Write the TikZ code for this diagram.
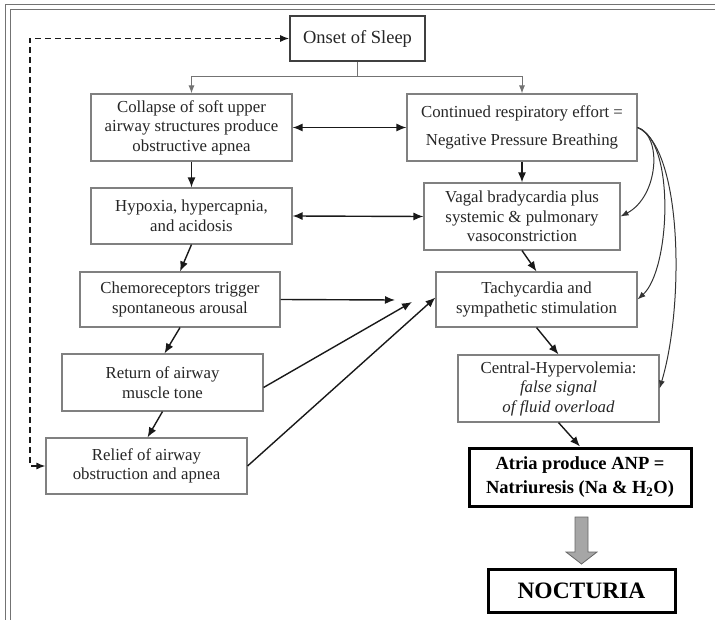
\documentclass[tikz,border=0pt]{standalone}
\usepackage{fontspec}
\setmainfont{Liberation Serif}
\usetikzlibrary{arrows.meta}
\begin{document}
\begin{tikzpicture}[x=1pt,y=-1pt,
  box/.style={draw=black!50, line width=1.1pt, fill=white, text=black!85, align=center, inner sep=0pt,
    font=\fontsize{16.8}{19.5}\selectfont},
  onsetbox/.style={box, draw=black!75, line width=1.6pt, font=\fontsize{18.5}{21}\selectfont},
  thickbox/.style={box, draw=black, line width=3pt, text=black, font=\bfseries\fontsize{18.5}{24}\selectfont},
  arr/.style={draw=black!90, line width=1.4pt, -{Latex[length=10pt,width=8pt]}},
  darr/.style={arr, {Latex[length=10pt,width=8pt]}-{Latex[length=10pt,width=8pt]}},
  conn/.style={draw=black!55, line width=1pt},
  carr/.style={draw=black!80, line width=1pt, -{Latex[length=8pt,width=6pt]}},
  dashline/.style={draw=black!90, line width=1.4pt, dash pattern=on 6pt off 4pt,
    {Latex[length=9pt,width=7pt]}-{Latex[length=9pt,width=7pt]}}
]
\useasboundingbox (0,0) rectangle (715,620);
% frame
\draw[black!55, line width=1pt] (5,620) -- (5,5) -- (715,5);
\draw[black!55, line width=1pt] (10,620) -- (10,10) -- (715,10);

% nodes
\node[onsetbox, minimum width=135pt, minimum height=45pt] (onset) at (357.5,38.5) {Onset of Sleep};
\node[box, minimum width=201pt, minimum height=67pt] (collapse) at (191.5,127.5)
  {Collapse of soft upper\\airway structures produce\\obstructive apnea};
\node[box, minimum width=230pt, minimum height=67pt] (cont) at (522,127.5)
  {Continued respiratory effort =\\[9pt]Negative Pressure Breathing};
\node[box, minimum width=201pt, minimum height=56pt] (hypoxia) at (191.5,216)
  {Hypoxia, hypercapnia,\\and acidosis};
\node[box, minimum width=196pt, minimum height=67pt] (vagal) at (522,216.5)
  {Vagal bradycardia plus\\systemic \& pulmonary\\vasoconstriction};
\node[box, minimum width=200pt, minimum height=55pt] (chemo) at (180,299.5)
  {Chemoreceptors trigger\\spontaneous arousal};
\node[box, minimum width=201pt, minimum height=55pt] (tachy) at (536.5,299.5)
  {Tachycardia and\\sympathetic stimulation};
\node[box, minimum width=201pt, minimum height=57pt] (ret) at (162.5,382.5)
  {Return of airway\\muscle tone};
\node[box, minimum width=201pt, minimum height=56pt] (relief) at (146.5,466)
  {Relief of airway\\obstruction and apnea};
\node[box, minimum width=201pt, minimum height=67pt] (central) at (558.5,388.5)
  {Central-Hypervolemia:\\\textit{false signal}\\\textit{of fluid overload}};
\node[thickbox, minimum width=222pt, minimum height=58pt] (atria) at (580,477)
  {Atria produce ANP =\\Natriuresis (Na \& H\textsubscript{2}O)};
\node[thickbox, minimum width=187pt, minimum height=43pt, font=\bfseries\fontsize{23.5}{26}\selectfont] (noct) at (581.5,590.5) {NOCTURIA};

% onset split
\coordinate (j) at (357.5,77);
\draw[conn] (onset.south) -- (j);
\draw[conn, -{Latex[length=8pt,width=6pt]}] (j) -| (collapse.north);
\draw[conn, -{Latex[length=8pt,width=6pt]}] (j) -| (cont.north);

% main arrows
\draw[darr] (collapse.east) -- (cont.west);
\draw[arr] (collapse.south) -- (hypoxia.north);
\draw[arr] (cont.south) -- (vagal.north);
\draw[darr] (hypoxia.east) -- (vagal.west);
\draw[arr] (hypoxia.south) -- (chemo.north);
\draw[arr] (vagal.south) -- (tachy.north);
\coordinate (c1) at (395,300);
\coordinate (c2) at (412,302);
\draw[arr] (chemo.east) -- (c1);
\draw[arr] ([yshift=-5pt]ret.east) -- (c2);
\draw[arr] (relief.east) -- ([yshift=2pt]tachy.west);
\draw[arr] (tachy.south) -- (central.north);
\draw[arr] (central.south) -- (atria.north);
\draw[arr] ([xshift=0pt]chemo.south) -- ([xshift=2pt]ret.north);
\draw[arr] ([xshift=0pt]ret.south) -- ([xshift=1pt]relief.north);

% curves from continued effort
\draw[carr] (cont.east) .. controls +(25,8) and +(38,-20) .. (vagal.east);
\draw[carr] (cont.east) .. controls +(38,13) and +(33,-30) .. (tachy.east);
\draw[carr] (cont.east) .. controls +(45,20) and +(25,-83) .. (central.east);

% dashed loop
\coordinate (dl) at (30,466);
\draw[dashline] (relief.west) -- (dl) |- (onset.west);

% big arrow
\draw[draw=black!60, fill=black!35, line width=0.8pt]
  (575,517) -- (588,517) -- (588,552) -- (597,552) -- (581.5,564) -- (566,552) -- (575,552) -- cycle;
\end{tikzpicture}
\end{document}
